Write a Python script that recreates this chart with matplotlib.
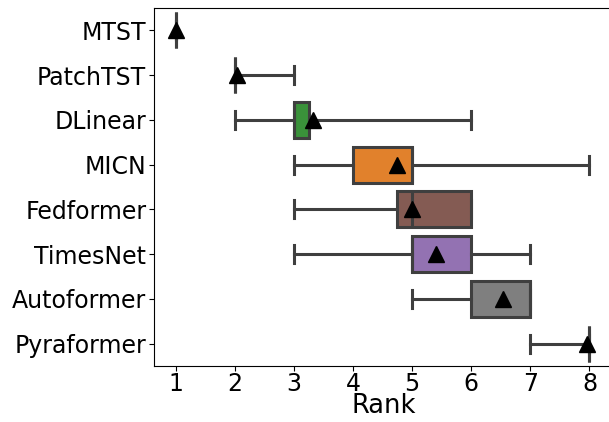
import matplotlib
matplotlib.use("Agg")
from matplotlib import pyplot as plt
import numpy as np

# summary stats (rank of each model)
models = ['MTST', 'PatchTST', 'DLinear', 'MICN', 'Fedformer', 'TimesNet', 'Autoformer', 'Pyraformer']
q1 = [1, 2, 3, 4, 4.75, 5, 6, 8]
med = [1, 2, 3, 5, 5, 5, 7, 8]
q3 = [1, 2, 3.25, 5, 6, 6, 7, 8]
whislo = [1, 2, 2, 3, 3, 3, 5, 7]
whishi = [1, 3, 6, 8, 6, 7, 7, 8]
means = [1.0, 2.03, 3.32, 4.75, 5.0, 5.4, 6.54, 7.96]
colors = ['#3274a1', '#e1812c', '#3a923a', '#e1812c', '#845b53', '#9372b2', '#7f7f7f', '#3274a1']

stats = []
for i in range(len(models)):
	stats.append(dict(label=models[i], q1=q1[i], med=med[i], q3=q3[i],
					  whislo=whislo[i], whishi=whishi[i], mean=means[i], fliers=[]))

fig = plt.figure(figsize=(6.09, 4.22), dpi=100)
# axes run a bit past the right edge of the figure, as in the original crop
ax = fig.add_axes([154/609, 56/422, 460/609, 358/422])

line_c = '#3f3f3f'
lw = 2.2
bp = ax.bxp(stats, positions=np.arange(len(models)), vert=False, widths=0.8,
			patch_artist=True, showmeans=True, showfliers=False,
			boxprops=dict(edgecolor=line_c, linewidth=lw),
			whiskerprops=dict(color=line_c, linewidth=lw),
			capprops=dict(color=line_c, linewidth=lw),
			medianprops=dict(color=line_c, linewidth=lw),
			meanprops=dict(marker='^', markerfacecolor='black', markeredgecolor='black', markersize=11))
for patch, c in zip(bp['boxes'], colors):
	patch.set_facecolor(c)
# caps in seaborn are half the box width
for cap in bp['caps']:
	y = cap.get_ydata()
	c = np.mean(y)
	cap.set_ydata([c - 0.2, c + 0.2])

ax.set_ylim(len(models) - 0.5, -0.5)
ax.set_xlim(0.633, 8.415)
ax.set_xticks(range(1, 9))
ax.set_yticks(np.arange(len(models)))
ax.set_yticklabels(models)
ax.tick_params(labelsize=17, pad=2)
ax.tick_params(axis='x', pad=1)
ax.set_xlabel('Rank', fontsize=18.5, labelpad=-2)

fig.savefig('out.png', dpi=100)
